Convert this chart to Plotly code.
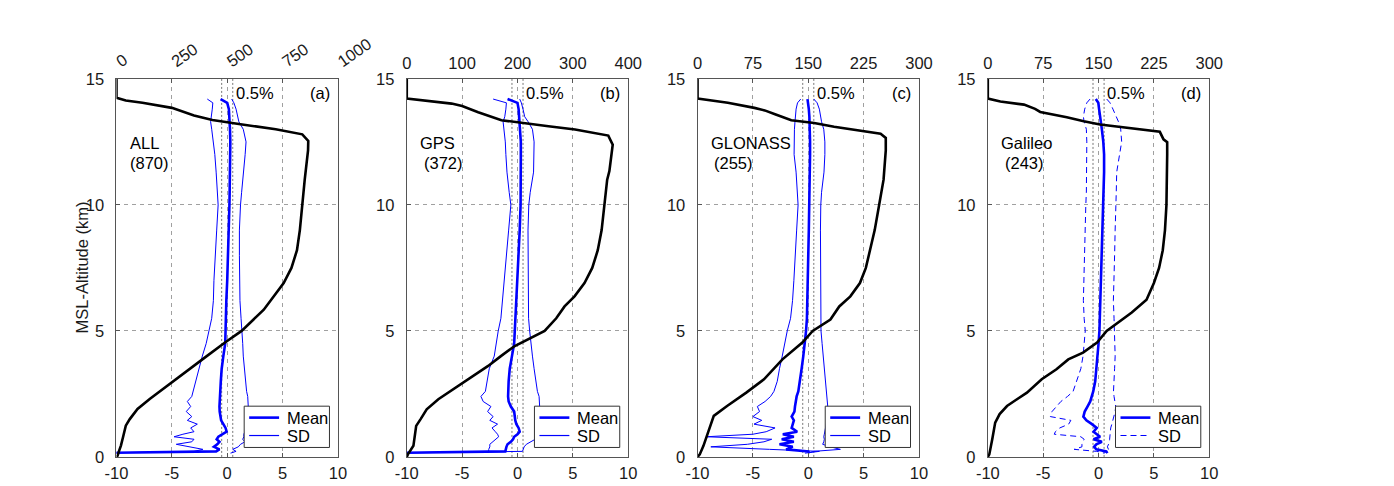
import plotly.graph_objects as go

# ---------------- data ----------------
# altitude levels (km) of the statistics profiles
stat_alt = [14.2, 14.05, 13.8, 13.5, 13.3, 13.0, 12.5, 12.0, 11.3, 10.5,
            10.0, 9.0, 8.0, 7.0, 6.2, 5.5, 5.0, 4.5, 4.0, 3.5,
            3.0, 2.6, 2.4, 2.2, 2.0, 1.8, 1.6, 1.45, 1.3, 1.15,
            1.0, 0.9, 0.8, 0.7, 0.6, 0.5, 0.4, 0.3, 0.22, 0.15]

# (a) ALL
mean_all = [-0.6, 0.0, 0.15, 0.2, 0.25, 0.25, 0.28, 0.25, 0.25, 0.22,
            0.2, 0.15, 0.1, 0.0, -0.08, -0.1, -0.15, -0.18, -0.35, -0.5,
            -0.58, -0.62, -0.68, -0.72, -0.7, -0.68, -0.6, -0.55, -0.35, -0.15,
            -0.05, -0.5, -0.8, -0.95, -0.7, -0.9, -1.2, -0.7, -1.0, -12]
sdlo_all = [-1.8, -1.3, -1.35, -1.45, -1.5, -1.4, -1.25, -1.12, -1.0, -0.88,
            -0.82, -0.95, -1.1, -1.2, -1.25, -1.4, -1.65, -1.9, -2.25, -2.55,
            -2.85, -3.1, -3.2, -3.6, -3.3, -3.7, -3.2, -3.6, -2.7, -3.3,
            -3.0, -4.0, -4.8, -3.0, -3.2, -4.6, -3.2, -2.2, -3.0, -12]
sdhi_all = [0.4, 0.6, 0.8, 0.95, 1.05, 1.45, 1.7, 1.62, 1.5, 1.3,
            1.2, 1.1, 1.1, 1.12, 1.15, 1.25, 1.35, 1.4, 1.45, 1.55,
            1.65, 1.75, 1.85, 1.9, 1.9, 1.85, 1.8, 1.75, 1.7, 1.7,
            1.6, 1.5, 1.5, 1.4, 1.6, 1.2, 1.0, 0.5, 0.8, 0.3]
cnt_alt_all = [0, 0.05, 0.25, 0.45, 0.8, 1.24, 1.5, 1.9, 2.3, 2.83,
               3.4, 3.95, 4.54, 5.0, 5.84, 6.37, 6.9, 7.5, 8.2, 9.0,
               10.0, 11.0, 12.16, 12.54, 12.8, 12.93, 13.0, 13.2, 13.29, 13.37,
               13.55, 13.75, 13.85, 14.05, 14.14, 14.25, 15.0]
cnt_all = [0, 5, 12, 20, 30, 42, 60, 95, 150, 232,
           320, 400, 490, 565, 665, 710, 755, 790, 815, 828,
           838, 850, 865, 866, 839, 760, 719, 560, 500, 433,
           350, 280, 250, 117, 42, 0, 0]

# (b) GPS
mean_gps = [-0.9, 0.0, 0.1, 0.15, 0.2, 0.25, 0.3, 0.3, 0.3, 0.3,
            0.28, 0.2, 0.1, 0.0, -0.09, -0.15, -0.22, -0.3, -0.5, -0.7,
            -0.8, -0.84, -0.85, -0.8, -0.6, -0.3, -0.25, -0.2, -0.1, 0.1,
            0.2, 0.0, -0.3, -0.4, -0.6, -0.9, -1.0, -1.05, -1.1, -12]
sdlo_gps = [-2.2, -1.0, -1.05, -1.15, -1.3, -1.2, -1.1, -1.05, -0.95, -0.75,
            -0.6, -0.8, -1.0, -1.2, -1.3, -1.5, -1.74, -1.9, -2.1, -2.55,
            -2.75, -2.9, -3.3, -3.1, -2.4, -2.7, -2.2, -2.5, -1.8, -2.3,
            -2.0, -1.8, -1.7, -2.0, -2.3, -2.5, -2.5, -2.6, -2.6, -12]
sdhi_gps = [0.2, 0.35, 0.5, 0.65, 0.96, 1.35, 1.5, 1.5, 1.45, 1.15,
            1.02, 0.95, 0.95, 1.0, 1.0, 1.0, 1.1, 1.2, 1.35, 1.5,
            1.65, 1.8, 1.95, 2.0, 2.0, 1.95, 1.9, 1.85, 1.8, 1.75,
            1.7, 1.7, 1.65, 1.6, 1.2, 0.8, 0.6, 0.5, 0.45, -12]
cnt_alt_gps = [0, 0.1, 0.44, 1.0, 1.23, 1.5, 1.89, 2.29, 2.82, 3.2,
               3.61, 4.0, 4.4, 5.0, 5.5, 5.97, 6.37, 6.9, 7.5, 8.2,
               9.0, 10.0, 11.0, 11.34, 12.0, 12.39, 12.75, 12.92, 12.99, 13.12,
               13.25, 13.36, 13.68, 13.92, 14.02, 14.15, 14.22, 15.0]
cnt_gps = [0, 2, 12, 15, 17, 25, 36, 57, 93, 120,
           147, 170, 195, 249, 270, 285, 303, 321, 335, 345,
           352, 357, 362, 366, 370, 372, 364, 316, 304, 256,
           213, 171, 129, 100, 81, 30, 0, 0]

# (c) GLONASS
mean_glo = [-0.07, 0.0, 0.05, 0.1, 0.12, 0.15, 0.16, 0.16, 0.15, 0.12,
            0.1, 0.05, 0.0, -0.05, -0.07, -0.12, -0.2, -0.3, -0.45, -0.6,
            -0.75, -0.9, -1.05, -1.15, -1.2, -1.25, -1.5, -1.3, -1.4, -1.5,
            -1.0, -2.3, -1.3, -2.4, -1.3, -2.6, -1.4, -2.0, 0.0, 0.1]
sdlo_glo = [-0.68, -0.97, -1.1, -1.19, -1.2, -1.25, -1.28, -1.28, -1.1, -0.95,
            -0.92, -1.05, -1.15, -1.3, -1.42, -1.6, -1.9, -2.1, -2.35, -2.6,
            -2.8, -3.1, -3.4, -3.9, -4.6, -4.4, -5.0, -4.2, -4.9, -3.0,
            -3.8, -5.0, -9.2, -3.3, -4.0, -5.5, -8.8, -3.5, 1.0, -0.3]
sdhi_glo = [0.5, 0.8, 1.0, 1.1, 1.2, 1.4, 1.5, 1.5, 1.42, 1.2,
            1.13, 1.1, 1.1, 1.12, 1.12, 1.12, 1.15, 1.25, 1.35, 1.45,
            1.55, 1.65, 1.7, 1.75, 1.8, 1.8, 1.75, 1.7, 1.65, 1.6,
            1.5, 1.45, 1.4, 1.45, 1.4, 1.3, 2.0, 2.9, 0.5, 0.0]
cnt_alt_glo = [0, 0.1, 0.44, 0.97, 1.3, 1.63, 2.02, 2.55, 3.08, 3.48,
               3.87, 4.54, 5.0, 5.45, 5.97, 6.37, 6.9, 7.5, 8.2, 9.0,
               10.0, 11.0, 12.16, 12.66, 12.82, 12.95, 13.1, 13.25, 13.36, 13.6,
               13.75, 13.85, 14.05, 14.22, 15.0]
cnt_glo = [0, 3, 8, 14, 18, 22, 40, 66, 90, 102,
           115, 142, 156, 180, 192, 207, 220, 228, 234, 240,
           246, 252, 255, 255, 248, 217, 185, 158, 127, 105,
           91, 77, 41, 0, 0]

# (d) Galileo
mean_gal = [-0.25, -0.02, 0.05, 0.12, 0.2, 0.3, 0.43, 0.5, 0.5, 0.45,
            0.4, 0.3, 0.25, 0.2, 0.14, 0.1, 0.08, 0.0, -0.1, -0.15,
            -0.3, -0.48, -0.6, -0.75, -1.0, -1.25, -1.37, -1.1, -0.6, -0.16,
            -0.45, -0.1, 0.14, -0.45, 0.3, -0.2, -0.4, -0.2, 0.7, 0.8]
sdlo_gal = [-0.77, -1.06, -1.25, -1.37, -1.3, -1.1, -1.06, -1.06, -1.06, -1.1,
            -1.15, -1.2, -1.25, -1.3, -1.37, -1.3, -1.2, -1.3, -1.4, -1.6,
            -2.0, -2.3, -2.8, -3.4, -3.8, -4.2, -4.35, -2.5, -2.7, -3.5,
            -3.9, -4.0, -1.6, -1.3, -1.4, -1.5, -1.5, -2.2, -0.16, 0.5]
sdhi_gal = [0.74, 1.04, 1.3, 1.64, 1.8, 2.0, 2.09, 1.9, 1.64, 1.6,
            1.55, 1.5, 1.45, 1.4, 1.34, 1.4, 1.45, 1.5, 1.5, 1.45,
            1.4, 1.35, 1.4, 1.5, 1.55, 1.5, 1.4, 1.3, 1.2, 1.1,
            1.05, 1.0, 1.0, 1.0, 1.0, 0.9, 0.8, 0.9, 0.8, 0.5]
cnt_alt_gal = [0, 0.1, 0.7, 1.36, 1.7, 2.02, 2.3, 2.55, 3.08, 3.48,
               3.87, 4.14, 4.54, 5.0, 5.73, 6.24, 6.9, 7.5, 8.2, 9.0,
               10.0, 11.0, 12.0, 12.49, 12.6, 12.9, 12.95, 13.08, 13.19, 13.32,
               13.48, 13.69, 13.81, 13.98, 14.1, 14.22, 15.0]
cnt_gal = [0, 2, 6, 10, 16, 26, 40, 53, 73, 93,
           109, 129, 148, 161, 195, 215, 225, 232, 237, 240,
           242, 243, 243, 243, 238, 233, 220, 184, 152, 130,
           107, 71, 64, 49, 17, 0, 0]

system_names = ["ALL", "GPS", "GLONASS", "Galileo"]
system_counts = ["(870)", "(372)", "(255)", "(243)"]
panel_tags = ["(a)", "(b)", "(c)", "(d)"]
top_ticks = [[0, 250, 500, 750, 1000], [0, 100, 200, 300, 400],
             [0, 75, 150, 225, 300], [0, 75, 150, 225, 300]]
bottom_ticks = [-10, -5, 0, 5, 10]
alt_ticks = [0, 5, 10, 15]
legend_labels = ["Mean", "SD"]
threshold = 0.5

panels = [
    (mean_all, sdlo_all, sdhi_all, cnt_alt_all, cnt_all),
    (mean_gps, sdlo_gps, sdhi_gps, cnt_alt_gps, cnt_gps),
    (mean_glo, sdlo_glo, sdhi_glo, cnt_alt_glo, cnt_glo),
    (mean_gal, sdlo_gal, sdhi_gal, cnt_alt_gal, cnt_gal),
]

# ---------------- figure ----------------
# page is photographed at ~0.968 scale, with the default 8px body margin
SC = 0.968
OFF = 8
XSH = 1.5
W, H = 1424, 486
FONT = "Liberation Sans, Arial, Helvetica, sans-serif"
FS = 16.5


def px_x(p):
    return ((p - XSH) / SC - OFF) / W


def px_y(p):
    return 1 - (p / SC - OFF) / H


left_px = [114, 405, 696.5, 987.5]
PW = 222
xdoms = [(px_x(l), px_x(l + PW)) for l in left_px]
ydom = [px_y(458), px_y(78)]
leg_left_px = [242, 533, 824.5, 1115.5]
LEG_W, LEG_TOP, LEG_BOT = 85.5, 407, 448.5
AX = "#555555"
GRID = "#a0a0a0"
BLUE = "#0000ff"

fig = go.Figure()
layout = {}
shapes = []
annotations = []

for i, (mn, lo, hi, calt, cnt) in enumerate(panels):
    bx, tx, yy = 2 * i + 1, 2 * i + 2, i + 1
    bxn = "x" if bx == 1 else f"x{bx}"
    txn = f"x{tx}"
    yn = "y" if yy == 1 else f"y{yy}"
    sd_dash = "6px,4px" if i == 3 else "solid"

    fig.add_trace(go.Scatter(x=cnt, y=calt, xaxis=txn, yaxis=yn, mode="lines",
                             line=dict(color="black", width=2.6), showlegend=False,
                             hoverinfo="skip"))
    fig.add_trace(go.Scatter(x=lo, y=stat_alt, xaxis=bxn, yaxis=yn, mode="lines",
                             line=dict(color=BLUE, width=1, dash=sd_dash),
                             name="SD", showlegend=False))
    fig.add_trace(go.Scatter(x=hi, y=stat_alt, xaxis=bxn, yaxis=yn, mode="lines",
                             line=dict(color=BLUE, width=1, dash=sd_dash),
                             name="SD", showlegend=False))
    fig.add_trace(go.Scatter(x=mn, y=stat_alt, xaxis=bxn, yaxis=yn, mode="lines",
                             line=dict(color=BLUE, width=2.6),
                             name="Mean", showlegend=False))

    common = dict(showline=True, linecolor=AX, linewidth=1, zeroline=False,
                  ticks="inside", ticklen=4, tickcolor=AX,
                  tickfont=dict(family=FONT, size=FS, color="#1a1a1a"))
    layout["xaxis" if bx == 1 else f"xaxis{bx}"] = dict(
        domain=xdoms[i], anchor=yn, range=[-10, 10], tickvals=bottom_ticks,
        ticktext=[str(v) for v in bottom_ticks], showgrid=True, gridcolor=GRID,
        griddash="4px,4px", gridwidth=1, ticklabelstandoff=1, **common)
    layout[f"xaxis{tx}"] = dict(
        overlaying=bxn, side="top", anchor=yn, range=[0, top_ticks[i][-1]],
        tickvals=top_ticks[i], ticktext=[str(v) for v in top_ticks[i]],
        showgrid=False, tickangle=-35 if i == 0 else 0, ticklabelstandoff=2, **common)
    layout["yaxis" if yy == 1 else f"yaxis{yy}"] = dict(
        domain=ydom, anchor=bxn, range=[0, 15], tickvals=alt_ticks,
        ticktext=[str(v) for v in alt_ticks], showgrid=True, gridcolor=GRID,
        griddash="4px,4px", gridwidth=1, mirror=True, ticklabelstandoff=8, **common)

    for xv in (-threshold, threshold):
        shapes.append(dict(type="line", xref=bxn, yref=f"{yn} domain", x0=xv, x1=xv,
                           y0=0, y1=1, layer="below",
                           line=dict(color="#777777", width=1, dash="2px,2px")))

    annotations += [
        dict(text="0.5%", xref=bxn, yref=yn, x=0.62, y=14.45, showarrow=False,
             xanchor="left", yanchor="middle", font=dict(family=FONT, size=FS, color="black")),
        dict(text=panel_tags[i], xref=bxn, yref=yn, x=9.45, y=14.45, showarrow=False,
             xanchor="right", yanchor="middle", font=dict(family=FONT, size=FS, color="black")),
        dict(text=system_names[i], xref=bxn, yref=yn, x=-9.0, y=12.45, showarrow=False,
             xanchor="left", yanchor="middle", font=dict(family=FONT, size=FS, color="black")),
        dict(text=system_counts[i], xref=bxn, yref=yn, x=-9.0 if i == 0 else -8.65, y=11.65,
             showarrow=False, xanchor="left", yanchor="middle",
             font=dict(family=FONT, size=FS, color="black")),
    ]

    # legend box drawn in paper coordinates
    L = leg_left_px[i]
    shapes.append(dict(type="rect", xref="paper", yref="paper",
                       x0=px_x(L), x1=px_x(L + LEG_W), y0=px_y(LEG_BOT), y1=px_y(LEG_TOP),
                       fillcolor="white", line=dict(color="#333333", width=1), layer="above"))
    for k, (ypx, lw, dsh) in enumerate([(418.5, 2.6, "solid"), (436.5, 1.2, sd_dash)]):
        shapes.append(dict(type="line", xref="paper", yref="paper",
                           x0=px_x(L + 5), x1=px_x(L + 35), y0=px_y(ypx), y1=px_y(ypx),
                           line=dict(color=BLUE, width=lw, dash=dsh), layer="above"))
        annotations.append(dict(text=legend_labels[k], xref="paper", yref="paper",
                                x=px_x(L + 41), y=px_y(ypx), showarrow=False,
                                xanchor="left", yanchor="middle",
                                font=dict(family=FONT, size=FS, color="black")))

annotations.append(dict(text="MSL-Altitude (km)", xref="paper", yref="paper",
                        x=px_x(79), y=(ydom[0] + ydom[1]) / 2, textangle=-90,
                        showarrow=False, xanchor="center", yanchor="middle",
                        font=dict(family=FONT, size=FS, color="#1a1a1a")))

fig.update_layout(width=W, height=H, margin=dict(l=0, r=0, t=0, b=0),
                  paper_bgcolor="white", plot_bgcolor="white", showlegend=False,
                  font=dict(family=FONT, size=FS, color="black"),
                  shapes=shapes, annotations=annotations, **layout)

fig.write_html("out.html")
